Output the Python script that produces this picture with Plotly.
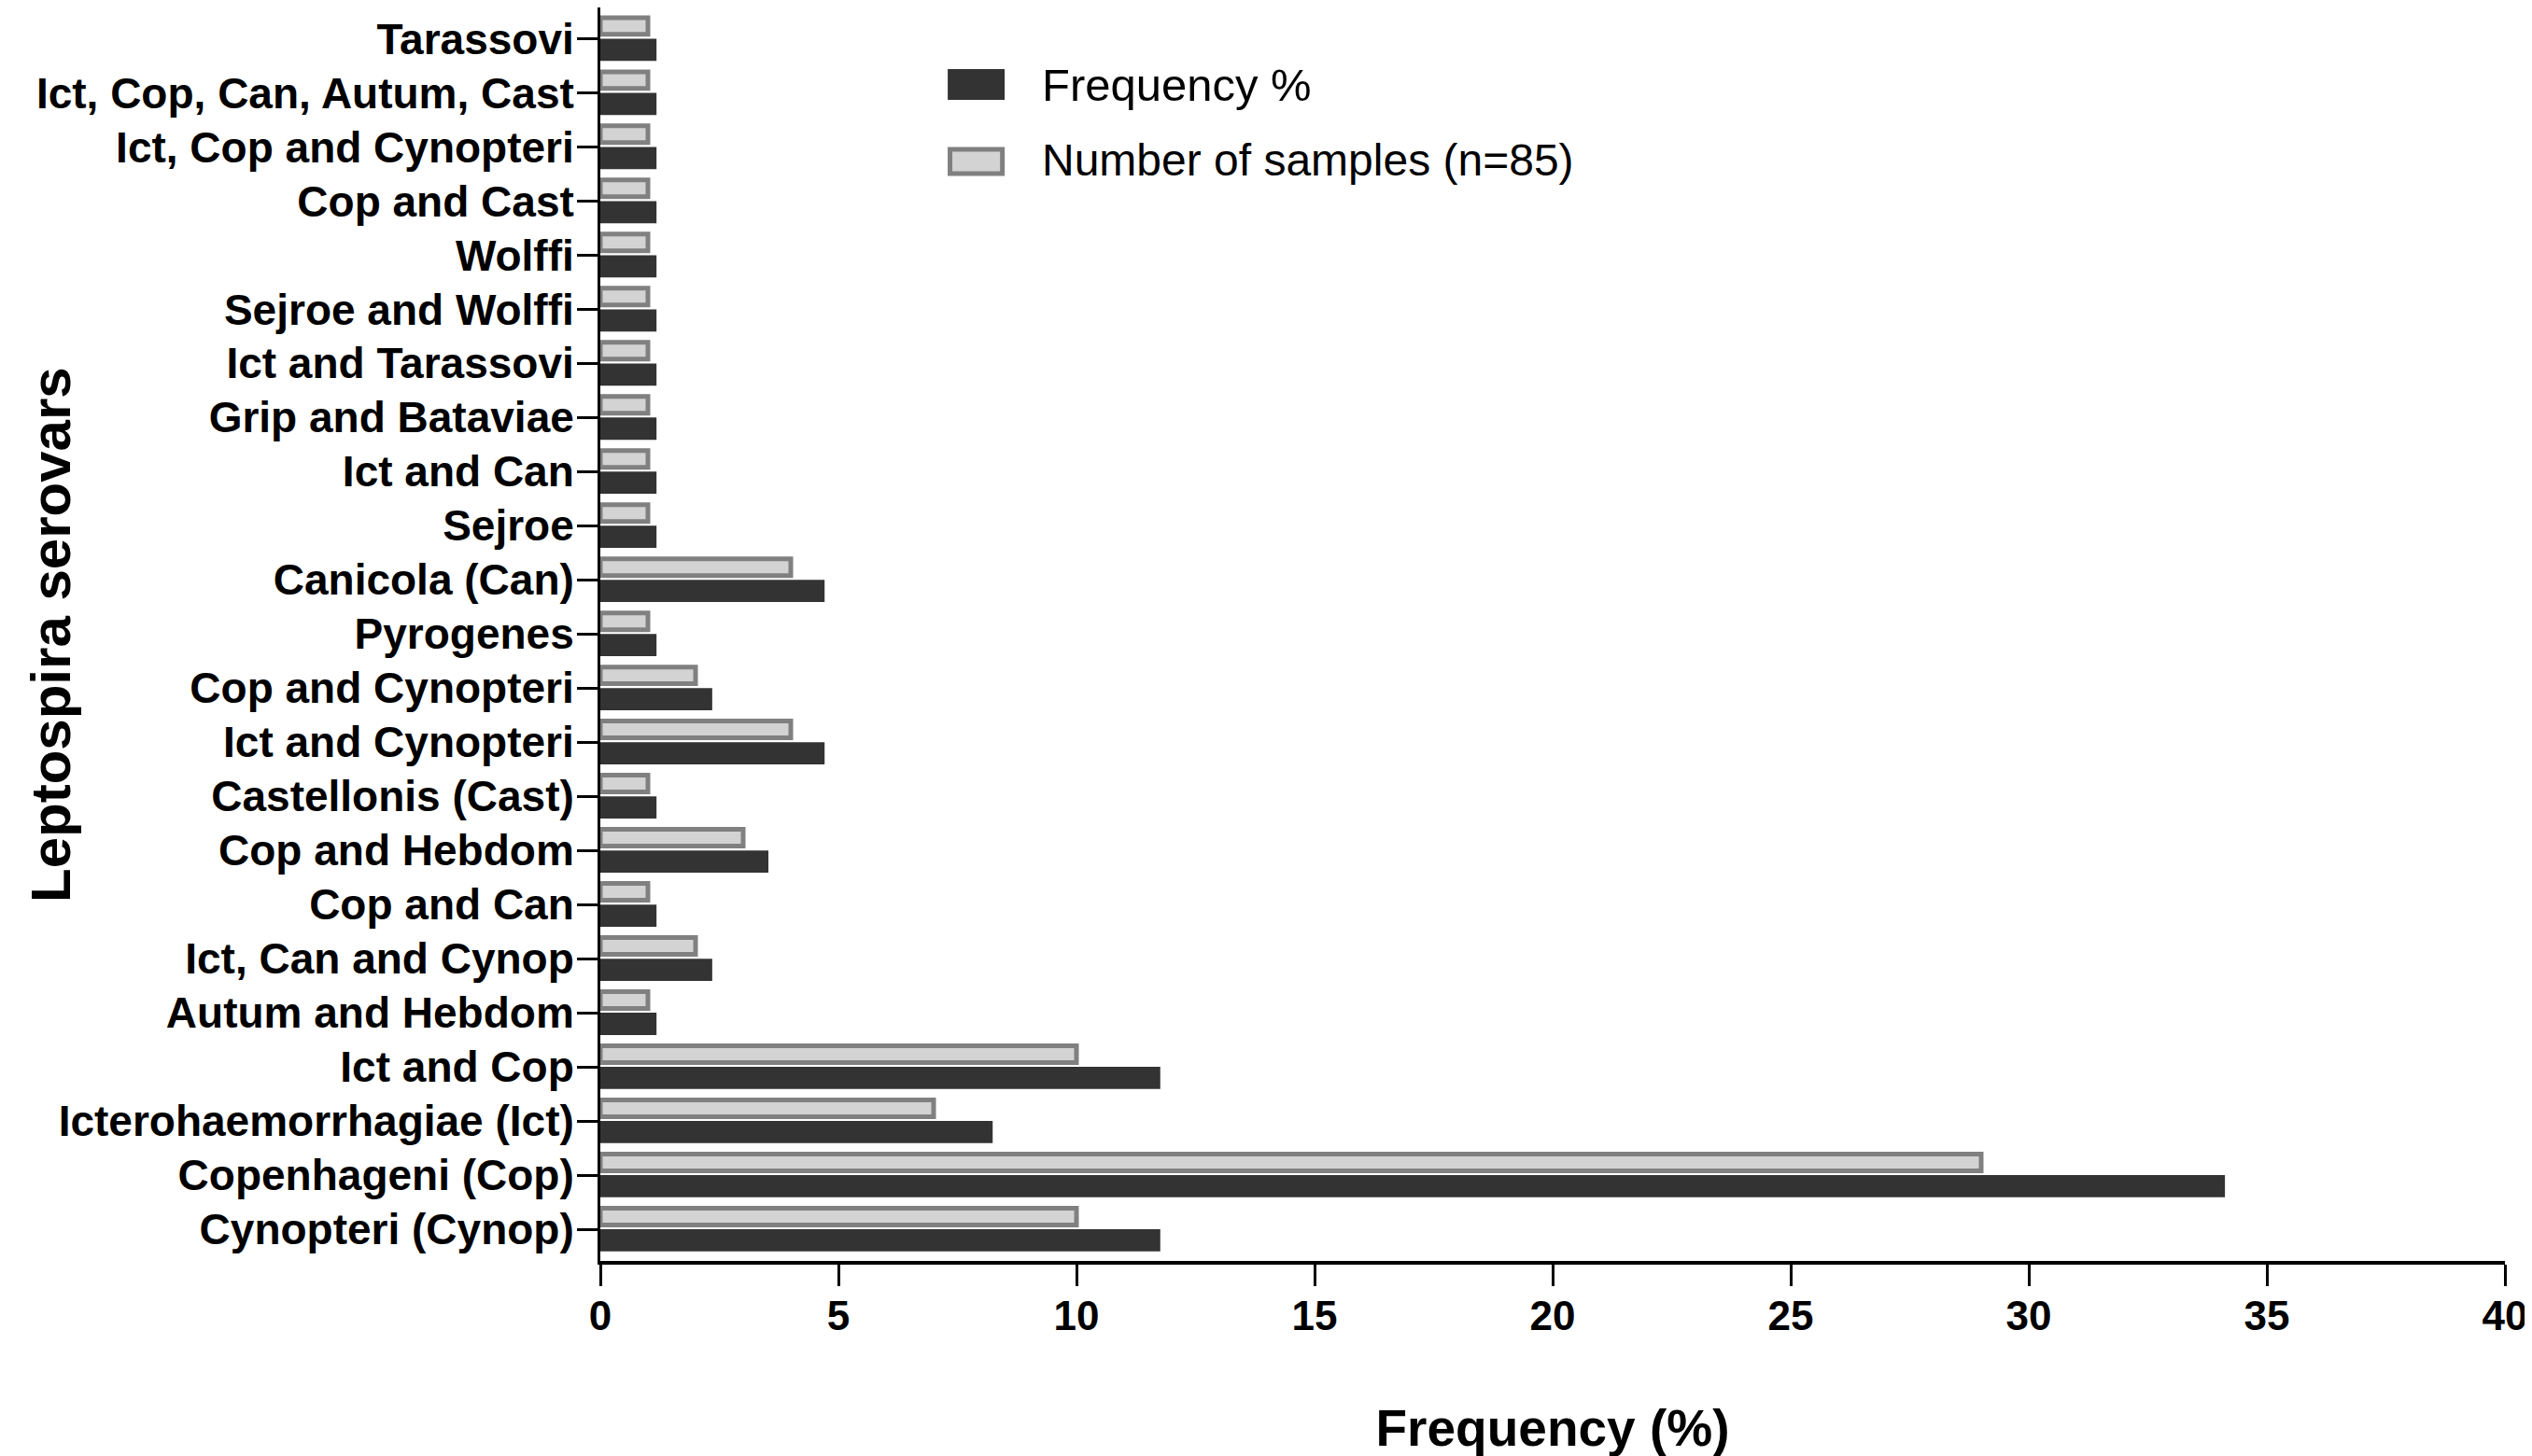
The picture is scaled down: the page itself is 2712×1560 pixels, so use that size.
import plotly.graph_objects as go

# serovars listed bottom to top (first one sits at the bottom of the chart)
serovars = ["Cynopteri (Cynop)", "Copenhageni (Cop)", "Icterohaemorrhagiae (Ict)", "Ict and Cop",
            "Autum and Hebdom", "Ict, Can and Cynop", "Cop and Can", "Cop and Hebdom",
            "Castellonis (Cast)", "Ict and Cynopteri", "Cop and Cynopteri", "Pyrogenes",
            "Canicola (Can)", "Sejroe", "Ict and Can", "Grip and Bataviae", "Ict and Tarassovi",
            "Sejroe and Wolffi", "Wolffi", "Cop and Cast", "Ict, Cop and Cynopteri",
            "Ict, Cop, Can, Autum, Cast", "Tarassovi"]
n_samples = [10, 29, 7, 10, 1, 2, 1, 3, 1, 4, 2, 1, 4, 1, 1, 1, 1, 1, 1, 1, 1, 1, 1]
frequency = [11.76, 34.12, 8.24, 11.76, 1.18, 2.35, 1.18, 3.53, 1.18, 4.71, 2.35, 1.18,
             4.71, 1.18, 1.18, 1.18, 1.18, 1.18, 1.18, 1.18, 1.18, 1.18, 1.18]
x_ticks = [0, 5, 10, 15, 20, 25, 30, 35, 40]

DARK = "#333333"
LIGHT = "#d3d3d3"
EDGE = "#808080"
FONT = "Liberation Sans"

fig = go.Figure()
fig.add_trace(go.Bar(y=serovars, x=frequency, orientation="h", name="Frequency %",
                     marker_color=DARK, marker_line_width=0,
                     width=0.41, offset=-0.41, showlegend=False))
fig.add_trace(go.Bar(y=serovars, x=n_samples, orientation="h", name="Number of samples (n=85)",
                     marker_color=LIGHT, marker_line_color=EDGE, marker_line_width=5,
                     width=0.31, offset=0.08, showlegend=False))

# legend drawn by hand so the swatches can be as big as in the original
fig.add_shape(type="rect", xref="paper", yref="paper", x0=0.1824, x1=0.2123, y0=0.9263, y1=0.9508,
              fillcolor=DARK, line_width=0)
fig.add_shape(type="rect", xref="paper", yref="paper", x0=0.1836, x1=0.2111, y0=0.8674, y1=0.8868,
              fillcolor=LIGHT, line=dict(color=EDGE, width=5))
fig.add_annotation(xref="paper", yref="paper", x=0.2309, y=0.9380, xanchor="left", yanchor="middle",
                   text="Frequency %", showarrow=False, font=dict(family=FONT, size=49, color="black"))
fig.add_annotation(xref="paper", yref="paper", x=0.2309, y=0.8785, xanchor="left", yanchor="middle",
                   text="Number of samples (n=85)", showarrow=False,
                   font=dict(family=FONT, size=48, color="black"))

# y axis title placed as annotation so it can sit close to the page edge
fig.add_annotation(xref="paper", yref="paper", x=-0.2885, y=0.5, xanchor="center", yanchor="middle",
                   textangle=-90, text="<b>Leptospira serovars</b>", showarrow=False,
                   font=dict(family=FONT, size=60, color="black"))

fig.update_layout(
    width=2712, height=1560,
    margin=dict(l=635, r=37, t=0, b=217),
    paper_bgcolor="white", plot_bgcolor="white",
    barmode="overlay",
    font=dict(family=FONT, color="black"),
)
fig.update_xaxes(range=[0, 40], tickvals=x_ticks, ticktext=[f"<b>{t}</b>" for t in x_ticks],
                 tickfont=dict(size=44), ticks="outside", ticklen=23, tickwidth=3, tickcolor="black",
                 ticklabelstandoff=-6,
                 showline=True, linewidth=4, linecolor="black", showgrid=False, zeroline=False,
                 automargin=False,
                 title=dict(text="<b>Frequency (%)</b>", font=dict(size=55), standoff=79))
fig.update_yaxes(type="category", categoryorder="array", categoryarray=serovars,
                 range=[-0.586, 22.578], tickvals=serovars, ticktext=[f"<b>{s}</b>" for s in serovars],
                 tickfont=dict(size=46), ticks="outside", ticklen=22, tickwidth=3, tickcolor="black",
                 ticklabelstandoff=-6,
                 showline=True, linewidth=3, linecolor="black", showgrid=False, zeroline=False,
                 automargin=False)

fig.write_html("out.html")
